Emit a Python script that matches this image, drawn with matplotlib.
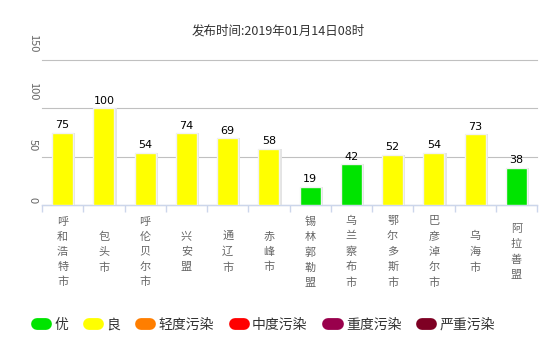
import matplotlib
matplotlib.use("Agg")
import matplotlib.pyplot as plt
from matplotlib.lines import Line2D
import numpy as np

plt.rcParams['font.family'] = ['Noto Sans CJK SC', 'DejaVu Sans']

title = "发布时间:2019年01月14日08时"
cities = ["呼和浩特市", "包头市", "呼伦贝尔市", "兴安盟", "通辽市", "赤峰市",
          "锡林郭勒盟", "乌兰察布市", "鄂尔多斯市", "巴彦淖尔市", "乌海市", "阿拉善盟"]
aqi = [75, 100, 54, 74, 69, 58, 19, 42, 52, 54, 73, 38]
levels = ["优", "良", "轻度污染", "中度污染", "重度污染", "严重污染"]
level_colors = ["#00e400", "#ffff00", "#ff7e00", "#ff0000", "#99004c", "#7e0023"]
level_limits = [50, 100, 150, 200, 300, 500]
yticks = [0, 50, 100, 150]

def color_for(v):
    for lim, c in zip(level_limits, level_colors):
        if v <= lim:
            return c
    return level_colors[-1]

fig = plt.figure(figsize=(5.53, 3.41), dpi=100)
ax = fig.add_axes([42/553, 1-205/341, 495/553, 145/341])

x = np.arange(len(cities))
cols = [color_for(v) for v in aqi]
# shadow
ax.bar(x + 0.03, aqi, width=0.56, color="#e4e4e4", zorder=2, linewidth=0)
ax.bar(x, aqi, width=0.51, color=cols, edgecolor="#f2f2f2", linewidth=1.0, zorder=3)
for xi, v in zip(x, aqi):
    ax.annotate(str(v), (xi, v), xytext=(0, 2), textcoords="offset points",
                ha="center", va="bottom", fontsize=8, color="#000000",
                family=['DejaVu Sans'], zorder=4)

ax.set_xlim(-0.5, len(cities) - 0.5)
ax.set_ylim(0, 150)
ax.set_yticks(yticks)
ax.set_yticklabels([])
ax.yaxis.grid(True, color="#c0c0c0", linewidth=0.8)
for gl in ax.get_ygridlines():
    gl.set_clip_on(False)
ax.set_axisbelow(True)
for s in ["top", "right", "left"]:
    ax.spines[s].set_visible(False)
ax.spines["bottom"].set_color("#ccd6eb")
ax.spines["bottom"].set_linewidth(1)
ax.tick_params(axis="y", length=0)
for t in yticks:
    s = str(t)
    ax.annotate(s, (0, t), xycoords=("axes fraction", "data"),
                xytext=(-6.5, (3 * len(s) - 1) * 0.72), textcoords="offset points",
                rotation=-90, ha="center", va="bottom", fontsize=8, color="#666666",
                annotation_clip=False)

ax.set_xticks(x)
ax.set_xticklabels(["\n".join(c) for c in cities], fontsize=8, color="#666666",
                   linespacing=1.62)
ax.tick_params(axis="x", length=0)
for lab in ax.get_xticklabels():
    lab.set_va("center")
ax.xaxis.set_tick_params(pad=47 * 72 / 100)
ax.set_xticks(np.arange(len(cities) + 1) - 0.5, minor=True)
ax.tick_params(axis="x", which="minor", length=5, color="#ccd6eb", width=1)

fig.text(0.503, 1 - 31/341, title, ha="center", va="center", fontsize=9, color="#333333")

handles = [Line2D([0], [0], color=c, lw=8.5, solid_capstyle="round") for c in level_colors]
leg = fig.legend(handles, levels, loc="center", bbox_to_anchor=(0.481, 1 - 325/341),
                 ncol=6, frameon=False, fontsize=10, handlelength=0.65,
                 handletextpad=0.6, columnspacing=1.5, labelcolor="#333333")

fig.savefig("out.png", dpi=100, facecolor="white")
